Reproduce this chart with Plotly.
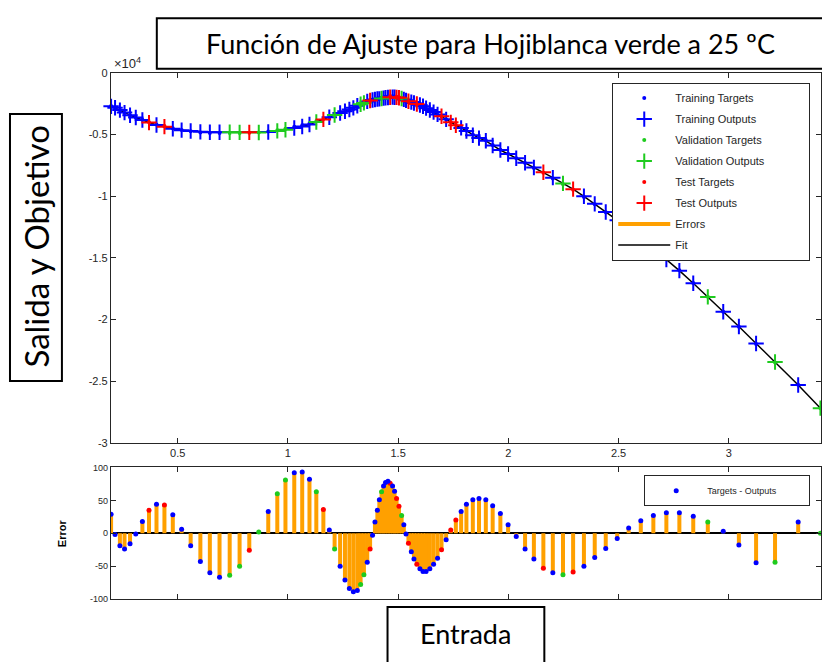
import plotly.graph_objects as go

# ---------------- data ----------------
x_in = [0.198, 0.216, 0.238, 0.259, 0.284, 0.310, 0.340, 0.370, 0.404, 0.440,
        0.478, 0.518, 0.559, 0.603, 0.646, 0.690, 0.736, 0.781, 0.825, 0.868,
        0.911, 0.952, 0.989, 1.029, 1.065, 1.098, 1.129, 1.161, 1.188, 1.212,
        1.237, 1.259, 1.279, 1.297, 1.315, 1.330, 1.345, 1.360, 1.373, 1.384,
        1.395, 1.406, 1.415, 1.425, 1.434, 1.443, 1.454, 1.464, 1.475, 1.484,
        1.493, 1.504, 1.516, 1.526, 1.536, 1.547, 1.560, 1.572, 1.585, 1.599,
        1.613, 1.627, 1.644, 1.661, 1.679, 1.697, 1.718, 1.739, 1.762, 1.786,
        1.810, 1.839, 1.867, 1.898, 1.929, 1.964, 1.999, 2.036, 2.076, 2.116,
        2.159, 2.202, 2.248, 2.294, 2.343, 2.392, 2.442, 2.494, 2.546, 2.601,
        2.658, 2.717, 2.776, 2.839, 2.905, 2.975, 3.046, 3.124, 3.210, 3.315,
        3.416]

targets = [-2680, -2820, -3030, -3240, -3440, -3610, -3800, -3990, -4180, -4310,
           -4490, -4630, -4730, -4820, -4870, -4870, -4870, -4870, -4840, -4820,
           -4750, -4640, -4520, -4370, -4250, -4100, -3910, -3730, -3590, -3430,
           -3300, -3170, -3050, -2920, -2750, -2620, -2490, -2350, -2260, -2190,
           -2130, -2080, -2050, -2010, -1970, -1930, -1910, -1890, -1890, -1910,
           -1930, -1970, -2040, -2130, -2220, -2310, -2390, -2470, -2560, -2650,
           -2760, -2910, -3060, -3220, -3400, -3540, -3770, -4000, -4220, -4420,
           -4660, -5000, -5230, -5450, -5840, -6220, -6560, -6920, -7310, -7700,
           -8100, -8550, -9020, -9480, -10050, -10650, -11300, -11950, -12600, -13350,
           -14200, -15100, -16000, -17030, -18140, -19360, -20580, -21980, -23480, -25280,
           -27180]

errors = [29, -2, -19, -24, -16, -1, 18, 35, 44, 43,
          28, 6, -19, -43, -60, -67, -64, -50, -26, 2,
          33, 60, 81, 92, 93, 82, 63, 36, 5, -24,
          -50, -71, -84, -89, -87, -78, -63, -44, -24, -3,
          17, 35, 51, 63, 72, 77, 79, 76, 72, 64,
          53, 41, 27, 13, -1, -15, -28, -39, -47, -54,
          -58, -58, -54, -47, -38, -25, -10, 5, 20, 33,
          44, 51, 53, 51, 42, 30, 13, -5, -24, -39,
          -53, -60, -63, -59, -50, -37, -23, -8, 8, 19,
          27, 31, 31, 26, 17, 3, -18, -45, -44, 17,
          0]

# T = training, V = validation, S = test
sets = list("TTTTTTTSTS" "TTTTTTVVSV" "TVVTTTVSTV" "TTTTTVVTST" "TTTVTTTSTT"
            "SSVTTSTTST" "TTTTTSTSST" "TTTTTTTTTT" "STVSTTTTTT" "TTTTVTTTVT" "V")

outputs = [t - e for t, e in zip(targets, errors)]

x_ticks = [0.5, 1, 1.5, 2, 2.5, 3]
x_ticklabels = ["0.5", "1", "1.5", "2", "2.5", "3"]
y_ticks = [-30000, -25000, -20000, -15000, -10000, -5000, 0]
y_ticklabels = ["-3", "-2.5", "-2", "-1.5", "-1", "-0.5", "0"]
err_ticks = [-100, -50, 0, 50, 100]
err_ticklabels = ["-100", "-50", "0", "50", "100"]

# ---------------- styling ----------------
W, H = 822, 662
BLUE, GREEN, RED, ORANGE = "#0000FF", "#1ECB1E", "#FF0000", "#FFA000"
AX = "#262626"
NB = "\u00a0"
colors = {"T": BLUE, "V": GREEN, "S": RED}
names = {"T": "Training", "V": "Validation", "S": "Test"}


def px(xp):
    return xp / W


def py(yp):
    return 1 - yp / H


fig = go.Figure()

order = sorted(range(len(x_in)), key=lambda i: x_in[i])
fit_x = [x_in[i] for i in order]
fit_y = [outputs[i] for i in order]

ex, ey = [], []
for xi, t, o in zip(x_in, targets, outputs):
    ex += [xi, xi, None]
    ey += [t, o, None]

fig.add_trace(go.Scatter(x=fit_x, y=fit_y, mode="lines", name="Fit",
                         line=dict(color="black", width=1.5),
                         legendrank=8, legendgroup="g8", xaxis="x", yaxis="y"))
fig.add_trace(go.Scatter(x=ex, y=ey, mode="lines", name="Errors",
                         line=dict(color=ORANGE, width=4),
                         legendrank=7, legendgroup="g7", xaxis="x", yaxis="y"))

rank = 1
for k in ["T", "V", "S"]:
    idx = [i for i, s in enumerate(sets) if s == k]
    fig.add_trace(go.Scatter(
        x=[x_in[i] for i in idx], y=[targets[i] for i in idx], mode="markers",
        name=names[k] + " Targets", marker=dict(color=colors[k], size=4),
        legendrank=rank, legendgroup="g%d" % rank, cliponaxis=False,
        xaxis="x", yaxis="y"))
    rank += 1
    label = names[k] + " Outputs"
    if k == "V":
        label += NB * 13
    fig.add_trace(go.Scatter(
        x=[x_in[i] for i in idx], y=[outputs[i] for i in idx], mode="markers",
        name=label,
        marker=dict(symbol="cross-thin", size=11, color=colors[k],
                    line=dict(color=colors[k], width=2)),
        legendrank=rank, legendgroup="g%d" % rank, cliponaxis=False,
        xaxis="x", yaxis="y"))
    rank += 1

sx, sy = [], []
for xi, e in zip(x_in, errors):
    sx += [xi, xi, None]
    sy += [0, e, None]
fig.add_trace(go.Scatter(x=sx, y=sy, mode="lines", showlegend=False,
                         line=dict(color=ORANGE, width=4),
                         xaxis="x2", yaxis="y2"))
for k in ["V", "S", "T"]:
    idx = [i for i, s in enumerate(sets) if s == k]
    fig.add_trace(go.Scatter(
        x=[x_in[i] for i in idx], y=[errors[i] for i in idx], mode="markers",
        name="Targets - Outputs" + NB * 11, marker=dict(color=colors[k], size=5),
        showlegend=(k == "T"), legend="legend2", cliponaxis=True,
        xaxis="x2", yaxis="y2"))

xdom = [px(111), 1.0]
xrange_ = [0.197, 3.4185]
axis_common = dict(showline=True, linecolor=AX, linewidth=1, mirror="ticks",
                   ticks="inside", ticklen=5, tickcolor=AX, showgrid=False)

fig.update_layout(
    width=W, height=H,
    margin=dict(l=0, r=0, t=0, b=0),
    paper_bgcolor="white", plot_bgcolor="white",
    font=dict(family="Liberation Sans, Arial, sans-serif", color=AX, size=11),
    xaxis=dict(domain=xdom, range=xrange_, anchor="y", tickvals=x_ticks,
               ticktext=x_ticklabels, tickfont=dict(size=11), zeroline=False,
               **axis_common),
    yaxis=dict(domain=[py(445), py(68.2)], range=[-30000, 0], anchor="x",
               tickvals=y_ticks, ticktext=y_ticklabels, zeroline=False,
               tickfont=dict(size=11), **axis_common),
    xaxis2=dict(domain=xdom, range=xrange_, anchor="y2", tickvals=x_ticks,
                showticklabels=False, zeroline=False, **axis_common),
    yaxis2=dict(domain=[py(604), py(470)], range=[-100, 100], anchor="x2",
                tickvals=err_ticks, ticktext=err_ticklabels,
                tickfont=dict(size=9), zeroline=True, zerolinecolor="black",
                zerolinewidth=1.5, **axis_common),
    legend=dict(x=px(613), y=py(78), xanchor="left", yanchor="top",
                bgcolor="white", bordercolor="#262626", borderwidth=1,
                font=dict(size=11, color=AX), traceorder="grouped",
                tracegroupgap=2, itemwidth=52),
    legend2=dict(x=px(645), y=py(478), xanchor="left", yanchor="top",
                 bgcolor="white", bordercolor="#262626", borderwidth=1,
                 font=dict(size=9, color=AX), itemwidth=52),
    showlegend=True,
)

fig.add_shape(type="rect", xref="paper", yref="paper",
              x0=px(157), x1=px(840), y0=py(64), y1=py(12.5),
              line=dict(color="black", width=2), fillcolor="white", layer="above")
fig.add_shape(type="rect", xref="paper", yref="paper",
              x0=px(10), x1=px(62), y0=py(382), y1=py(110),
              line=dict(color="black", width=2), fillcolor="white", layer="above")
fig.add_shape(type="rect", xref="paper", yref="paper",
              x0=px(388), x1=px(545), y0=py(670), y1=py(612),
              line=dict(color="black", width=2), fillcolor="white", layer="above")

BIG = dict(family="Lato, Open Sans, sans-serif", size=27, color="black")
fig.add_annotation(text="Función de Ajuste para Hojiblanca verde a 25 ºC",
                   xref="paper", yref="paper", x=px(491), y=py(38),
                   xanchor="center", yanchor="middle", showarrow=False, font=BIG)
fig.add_annotation(text="Salida y Objetivo", xref="paper", yref="paper",
                   x=px(36), y=py(245), xanchor="center", yanchor="middle",
                   textangle=-90, showarrow=False,
                   font=dict(family="Lato, Open Sans, sans-serif", size=33,
                             color="black"))
fig.add_annotation(text="Entrada", xref="paper", yref="paper",
                   x=px(466), y=py(639), xanchor="center", yanchor="middle",
                   showarrow=False, font=BIG)
fig.add_annotation(text="<b>Error</b>", xref="paper", yref="paper",
                   x=px(62), y=py(537), xanchor="center", yanchor="middle",
                   textangle=-90, showarrow=False,
                   font=dict(size=11, color="black"))
fig.add_annotation(text="×10<sup>4</sup>", xref="paper", yref="paper",
                   x=px(112), y=py(58), xanchor="left", yanchor="middle",
                   showarrow=False, font=dict(size=13, color=AX))

fig.write_html("out.html")
